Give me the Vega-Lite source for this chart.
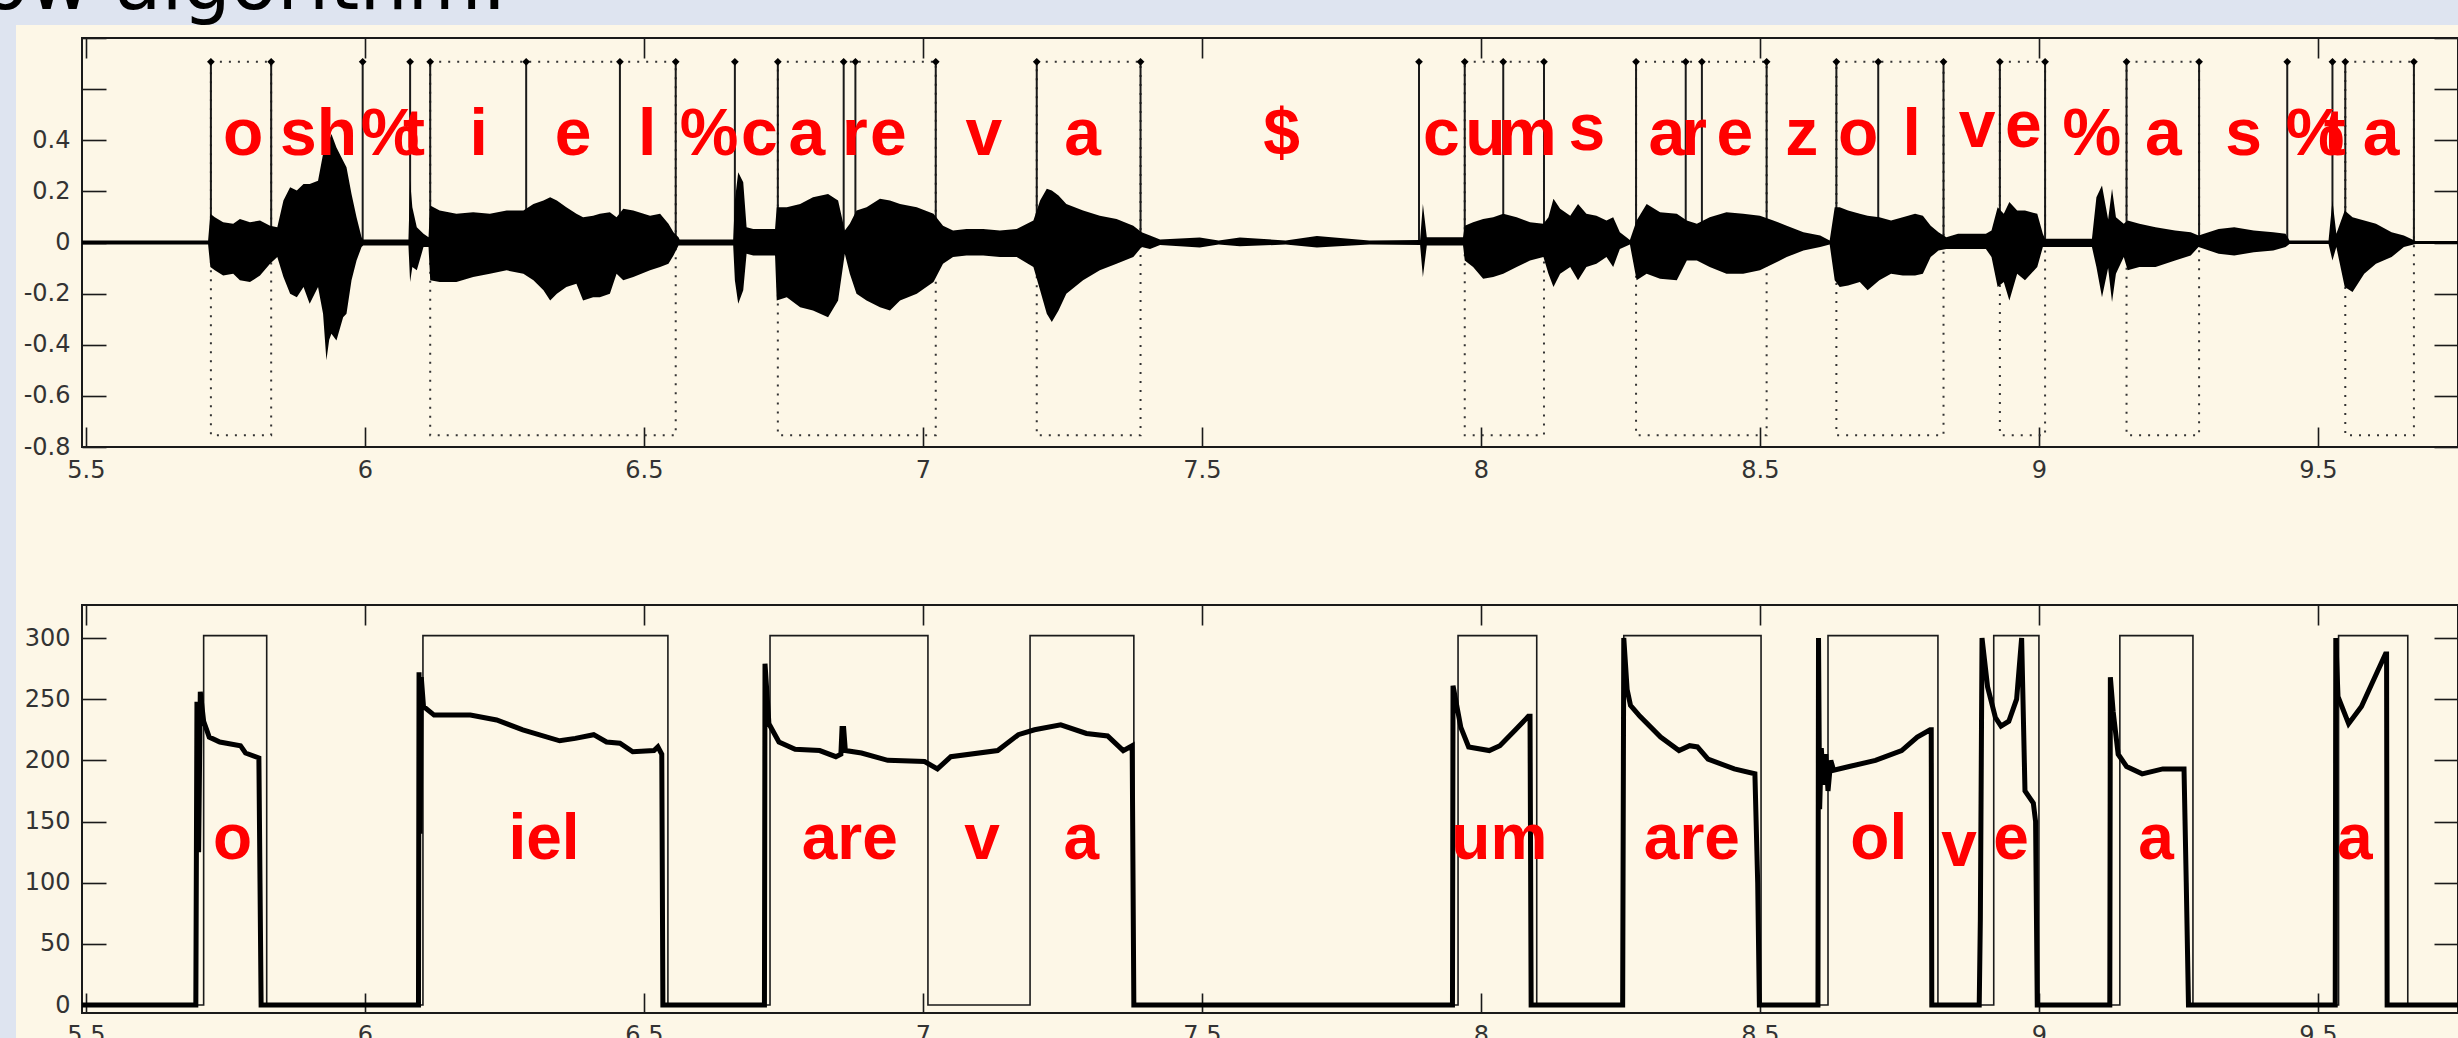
{
  "$schema": "https://vega.github.io/schema/vega-lite/v6.json",
  "background": "#fdf7e7",
  "padding": {"left": 0, "top": 0, "right": 0, "bottom": -8},
  "bounds": "flush",
  "spacing": 0,
  "config": {
    "view": {"stroke": null},
    "axis": {"domain": false, "grid": false, "tickColor": "#1a1a1a", "tickWidth": 1.6, "labelFont": "DejaVu Sans", "labelFontSize": 24, "labelColor": "#333333", "labelFlush": false, "labelOverlap": false, "labelBound": false}
  },
  "datasets": {
    "wave": [
      {"t":5.493,"hi":0.008,"lo":-0.008},{"t":5.719,"hi":0.008,"lo":-0.008},{"t":5.723,"hi":0.112,"lo":-0.096},{"t":5.731,"hi":0.099,"lo":-0.109},{"t":5.746,"hi":0.079,"lo":-0.129},{"t":5.764,"hi":0.073,"lo":-0.122},{"t":5.776,"hi":0.092,"lo":-0.148},{"t":5.794,"hi":0.079,"lo":-0.155},{"t":5.812,"hi":0.086,"lo":-0.129},{"t":5.83,"hi":0.066,"lo":-0.083},{"t":5.843,"hi":0.06,"lo":-0.057},{"t":5.854,"hi":0.164,"lo":-0.135},{"t":5.866,"hi":0.216,"lo":-0.2},{"t":5.878,"hi":0.203,"lo":-0.214},{"t":5.89,"hi":0.229,"lo":-0.174},{"t":5.901,"hi":0.229,"lo":-0.24},{"t":5.916,"hi":0.242,"lo":-0.174},{"t":5.925,"hi":0.346,"lo":-0.279},{"t":5.931,"hi":0.359,"lo":-0.461},{"t":5.936,"hi":0.4,"lo":-0.38},{"t":5.94,"hi":0.424,"lo":-0.357},{"t":5.949,"hi":0.372,"lo":-0.383},{"t":5.961,"hi":0.32,"lo":-0.292},{"t":5.967,"hi":0.294,"lo":-0.279},{"t":5.976,"hi":0.19,"lo":-0.148},{"t":5.985,"hi":0.099,"lo":-0.07},{"t":5.994,"hi":0.021,"lo":-0.018},{"t":5.997,"hi":0.012,"lo":-0.012},
      {"t":6.078,"hi":0.012,"lo":-0.012},{"t":6.081,"hi":0.242,"lo":-0.155},{"t":6.085,"hi":0.138,"lo":-0.096},{"t":6.093,"hi":0.06,"lo":-0.109},{"t":6.105,"hi":0.034,"lo":-0.018},{"t":6.114,"hi":0.021,"lo":-0.018},{"t":6.117,"hi":0.145,"lo":-0.148},{"t":6.134,"hi":0.125,"lo":-0.155},{"t":6.164,"hi":0.112,"lo":-0.155},{"t":6.194,"hi":0.118,"lo":-0.135},{"t":6.224,"hi":0.112,"lo":-0.122},{"t":6.254,"hi":0.125,"lo":-0.109},{"t":6.284,"hi":0.125,"lo":-0.122},{"t":6.302,"hi":0.151,"lo":-0.148},{"t":6.32,"hi":0.164,"lo":-0.187},{"t":6.332,"hi":0.177,"lo":-0.227},{"t":6.344,"hi":0.164,"lo":-0.2},{"t":6.361,"hi":0.138,"lo":-0.174},{"t":6.379,"hi":0.112,"lo":-0.161},{"t":6.391,"hi":0.099,"lo":-0.227},{"t":6.409,"hi":0.105,"lo":-0.214},{"t":6.421,"hi":0.112,"lo":-0.214},{"t":6.439,"hi":0.118,"lo":-0.2},{"t":6.451,"hi":0.099,"lo":-0.122},{"t":6.463,"hi":0.132,"lo":-0.148},{"t":6.481,"hi":0.125,"lo":-0.135},{"t":6.511,"hi":0.105,"lo":-0.109},{"t":6.529,"hi":0.112,"lo":-0.096},{"t":6.544,"hi":0.073,"lo":-0.083},{"t":6.553,"hi":0.04,"lo":-0.051},{"t":6.562,"hi":0.021,"lo":-0.012},{"t":6.564,"hi":0.012,"lo":-0.012},
      {"t":6.66,"hi":0.012,"lo":-0.012},{"t":6.663,"hi":0.164,"lo":-0.148},{"t":6.669,"hi":0.275,"lo":-0.24},{"t":6.678,"hi":0.236,"lo":-0.187},{"t":6.684,"hi":0.06,"lo":-0.044},{"t":6.696,"hi":0.053,"lo":-0.051},{"t":6.735,"hi":0.053,"lo":-0.051},{"t":6.738,"hi":0.138,"lo":-0.227},{"t":6.756,"hi":0.138,"lo":-0.214},{"t":6.78,"hi":0.151,"lo":-0.253},{"t":6.803,"hi":0.177,"lo":-0.266},{"t":6.83,"hi":0.19,"lo":-0.292},{"t":6.848,"hi":0.164,"lo":-0.227},{"t":6.86,"hi":0.047,"lo":-0.044},{"t":6.869,"hi":0.073,"lo":-0.122},{"t":6.881,"hi":0.125,"lo":-0.2},{"t":6.899,"hi":0.138,"lo":-0.227},{"t":6.923,"hi":0.171,"lo":-0.253},{"t":6.941,"hi":0.164,"lo":-0.266},{"t":6.959,"hi":0.151,"lo":-0.227},{"t":6.989,"hi":0.138,"lo":-0.2},{"t":7.019,"hi":0.112,"lo":-0.155},{"t":7.036,"hi":0.066,"lo":-0.083},{"t":7.054,"hi":0.047,"lo":-0.057},{"t":7.078,"hi":0.053,"lo":-0.051},{"t":7.108,"hi":0.053,"lo":-0.051},{"t":7.138,"hi":0.047,"lo":-0.057},{"t":7.168,"hi":0.053,"lo":-0.057},{"t":7.198,"hi":0.086,"lo":-0.096},{"t":7.21,"hi":0.164,"lo":-0.187},{"t":7.222,"hi":0.21,"lo":-0.279},{"t":7.231,"hi":0.203,"lo":-0.311},{"t":7.243,"hi":0.184,"lo":-0.266},{"t":7.257,"hi":0.151,"lo":-0.2},{"t":7.287,"hi":0.125,"lo":-0.148},{"t":7.317,"hi":0.105,"lo":-0.109},{"t":7.347,"hi":0.092,"lo":-0.083},{"t":7.377,"hi":0.066,"lo":-0.057},{"t":7.392,"hi":0.04,"lo":-0.018},{"t":7.407,"hi":0.027,"lo":-0.025},{"t":7.425,"hi":0.012,"lo":-0.01},{"t":7.496,"hi":0.02,"lo":-0.02},{"t":7.53,"hi":0.008,"lo":-0.008},{"t":7.568,"hi":0.02,"lo":-0.015},{"t":7.65,"hi":0.008,"lo":-0.008},{"t":7.706,"hi":0.025,"lo":-0.02},{"t":7.8,"hi":0.008,"lo":-0.008},{"t":7.891,"hi":0.01,"lo":-0.01},{"t":7.896,"hi":0.151,"lo":-0.135},{"t":7.903,"hi":0.021,"lo":-0.012},{"t":7.968,"hi":0.021,"lo":-0.012},
      {"t":7.971,"hi":0.066,"lo":-0.07},{"t":7.986,"hi":0.079,"lo":-0.096},{"t":8.004,"hi":0.092,"lo":-0.142},{"t":8.022,"hi":0.099,"lo":-0.135},{"t":8.04,"hi":0.112,"lo":-0.122},{"t":8.064,"hi":0.099,"lo":-0.096},{"t":8.088,"hi":0.079,"lo":-0.07},{"t":8.112,"hi":0.073,"lo":-0.057},{"t":8.121,"hi":0.099,"lo":-0.122},{"t":8.13,"hi":0.171,"lo":-0.174},{"t":8.142,"hi":0.132,"lo":-0.122},{"t":8.16,"hi":0.105,"lo":-0.096},{"t":8.174,"hi":0.151,"lo":-0.148},{"t":8.189,"hi":0.112,"lo":-0.096},{"t":8.207,"hi":0.105,"lo":-0.083},{"t":8.225,"hi":0.086,"lo":-0.057},{"t":8.237,"hi":0.099,"lo":-0.096},{"t":8.249,"hi":0.04,"lo":-0.025},{"t":8.267,"hi":0.01,"lo":-0.008},{"t":8.279,"hi":0.086,"lo":-0.148},{"t":8.297,"hi":0.151,"lo":-0.122},{"t":8.321,"hi":0.118,"lo":-0.142},{"t":8.351,"hi":0.112,"lo":-0.148},{"t":8.369,"hi":0.086,"lo":-0.07},{"t":8.387,"hi":0.073,"lo":-0.07},{"t":8.41,"hi":0.099,"lo":-0.096},{"t":8.44,"hi":0.118,"lo":-0.122},{"t":8.47,"hi":0.112,"lo":-0.122},{"t":8.5,"hi":0.105,"lo":-0.109},{"t":8.524,"hi":0.086,"lo":-0.083},{"t":8.548,"hi":0.066,"lo":-0.057},{"t":8.578,"hi":0.04,"lo":-0.031},{"t":8.608,"hi":0.027,"lo":-0.018},{"t":8.625,"hi":0.008,"lo":-0.008},
      {"t":8.634,"hi":0.138,"lo":-0.148},{"t":8.643,"hi":0.138,"lo":-0.174},{"t":8.658,"hi":0.125,"lo":-0.168},{"t":8.679,"hi":0.112,"lo":-0.155},{"t":8.693,"hi":0.105,"lo":-0.187},{"t":8.714,"hi":0.099,"lo":-0.148},{"t":8.735,"hi":0.086,"lo":-0.122},{"t":8.756,"hi":0.099,"lo":-0.129},{"t":8.778,"hi":0.112,"lo":-0.129},{"t":8.792,"hi":0.105,"lo":-0.122},{"t":8.806,"hi":0.066,"lo":-0.057},{"t":8.82,"hi":0.04,"lo":-0.031},{"t":8.834,"hi":0.021,"lo":-0.025},{"t":8.855,"hi":0.034,"lo":-0.025},{"t":8.905,"hi":0.034,"lo":-0.025},{"t":8.915,"hi":0.047,"lo":-0.057},{"t":8.926,"hi":0.138,"lo":-0.174},{"t":8.937,"hi":0.112,"lo":-0.155},{"t":8.947,"hi":0.158,"lo":-0.227},{"t":8.961,"hi":0.125,"lo":-0.122},{"t":8.975,"hi":0.125,"lo":-0.148},{"t":8.997,"hi":0.112,"lo":-0.096},{"t":9.007,"hi":0.034,"lo":-0.018},{"t":9.011,"hi":0.015,"lo":-0.018},{"t":9.095,"hi":0.015,"lo":-0.018},{"t":9.103,"hi":0.177,"lo":-0.096},{"t":9.113,"hi":0.223,"lo":-0.214},{"t":9.124,"hi":0.09,"lo":-0.1},{"t":9.131,"hi":0.21,"lo":-0.233},{"t":9.138,"hi":0.099,"lo":-0.122},{"t":9.152,"hi":0.073,"lo":-0.057},{"t":9.159,"hi":0.086,"lo":-0.109},{"t":9.18,"hi":0.073,"lo":-0.096},{"t":9.209,"hi":0.06,"lo":-0.096},{"t":9.244,"hi":0.047,"lo":-0.07},{"t":9.272,"hi":0.04,"lo":-0.051},{"t":9.286,"hi":0.027,"lo":-0.018},{"t":9.322,"hi":0.053,"lo":-0.044},{"t":9.35,"hi":0.06,"lo":-0.051},{"t":9.385,"hi":0.047,"lo":-0.038},{"t":9.42,"hi":0.04,"lo":-0.031},{"t":9.442,"hi":0.034,"lo":-0.018},{"t":9.449,"hi":0.008,"lo":-0.006},{"t":9.519,"hi":0.008,"lo":-0.006},{"t":9.526,"hi":0.164,"lo":-0.07},{"t":9.533,"hi":0.034,"lo":-0.018},{"t":9.548,"hi":0.125,"lo":-0.174},{"t":9.562,"hi":0.099,"lo":-0.194},{"t":9.583,"hi":0.086,"lo":-0.122},{"t":9.604,"hi":0.073,"lo":-0.083},{"t":9.632,"hi":0.04,"lo":-0.057},{"t":9.654,"hi":0.027,"lo":-0.018},{"t":9.675,"hi":0.006,"lo":-0.006},{"t":9.751,"hi":0.006,"lo":-0.006}
    ],
    "stems": [
      {"t":5.724},{"t":5.832},{"t":5.996},{"t":6.081},{"t":6.117},{"t":6.289},{"t":6.457},{"t":6.557},{"t":6.663},{"t":6.74},{"t":6.858},{"t":6.879},{"t":7.023},{"t":7.204},{"t":7.39},{"t":7.889},{"t":7.971},{"t":8.04},{"t":8.113},{"t":8.278},{"t":8.367},{"t":8.396},{"t":8.512},{"t":8.637},{"t":8.712},{"t":8.829},{"t":8.93},{"t":9.011},{"t":9.157},{"t":9.287},{"t":9.445},{"t":9.526},{"t":9.549},{"t":9.672}
    ],
    "segTop": [
      {"start":5.724,"end":5.832},{"start":6.117,"end":6.557},{"start":6.74,"end":7.023},{"start":7.204,"end":7.39},{"start":7.971,"end":8.113},{"start":8.278,"end":8.512},{"start":8.637,"end":8.829},{"start":8.93,"end":9.011},{"start":9.157,"end":9.287},{"start":9.549,"end":9.672}
    ],
    "labTop": [
      {"t":5.782,"amp":0.344,"label":"o"},{"t":5.917,"amp":0.344,"label":"sh"},{"t":6.045,"amp":0.344,"label":"%"},{"t":6.088,"amp":0.344,"label":"t"},{"t":6.204,"amp":0.344,"label":"i"},{"t":6.373,"amp":0.344,"label":"e"},{"t":6.506,"amp":0.344,"label":"l"},{"t":6.617,"amp":0.344,"label":"%"},{"t":6.707,"amp":0.344,"label":"c"},{"t":6.792,"amp":0.344,"label":"a"},{"t":6.878,"amp":0.344,"label":"r"},{"t":6.938,"amp":0.344,"label":"e"},{"t":7.109,"amp":0.344,"label":"v"},{"t":7.286,"amp":0.344,"label":"a"},{"t":7.643,"amp":0.344,"label":"$"},{"t":7.929,"amp":0.344,"label":"c"},{"t":8.008,"amp":0.344,"label":"u"},{"t":8.083,"amp":0.344,"label":"m"},{"t":8.19,"amp":0.362,"label":"s"},{"t":8.333,"amp":0.344,"label":"a"},{"t":8.382,"amp":0.344,"label":"r"},{"t":8.455,"amp":0.344,"label":"e"},{"t":8.575,"amp":0.344,"label":"z"},{"t":8.676,"amp":0.344,"label":"o"},{"t":8.772,"amp":0.344,"label":"l"},{"t":8.889,"amp":0.375,"label":"v"},{"t":8.972,"amp":0.375,"label":"e"},{"t":9.095,"amp":0.344,"label":"%"},{"t":9.223,"amp":0.344,"label":"a"},{"t":9.367,"amp":0.344,"label":"s"},{"t":9.495,"amp":0.344,"label":"%"},{"t":9.53,"amp":0.344,"label":"t"},{"t":9.613,"amp":0.344,"label":"a"}
    ],
    "square": [
      {"t":5.493,"v":0},{"t":5.711,"v":302},{"t":5.824,"v":0},{"t":6.104,"v":302},{"t":6.543,"v":0},{"t":6.726,"v":302},{"t":7.009,"v":0},{"t":7.192,"v":302},{"t":7.378,"v":0},{"t":7.959,"v":302},{"t":8.1,"v":0},{"t":8.256,"v":302},{"t":8.502,"v":0},{"t":8.622,"v":302},{"t":8.819,"v":0},{"t":8.919,"v":302},{"t":9.0,"v":0},{"t":9.145,"v":302},{"t":9.276,"v":0},{"t":9.537,"v":302},{"t":9.661,"v":0},{"t":9.751,"v":0}
    ],
    "pitch": [
      {"t":5.493,"f0":0},{"t":5.697,"f0":0},{"t":5.699,"f0":248},{"t":5.702,"f0":125},{"t":5.705,"f0":256},{"t":5.711,"f0":232},{"t":5.721,"f0":219},{"t":5.74,"f0":215},{"t":5.777,"f0":212},{"t":5.786,"f0":206},{"t":5.81,"f0":202},{"t":5.812,"f0":100},{"t":5.814,"f0":0},
      {"t":6.096,"f0":0},{"t":6.097,"f0":272},{"t":6.099,"f0":140},{"t":6.101,"f0":268},{"t":6.105,"f0":244},{"t":6.124,"f0":237},{"t":6.189,"f0":237},{"t":6.236,"f0":233},{"t":6.283,"f0":225},{"t":6.349,"f0":216},{"t":6.377,"f0":218},{"t":6.41,"f0":221},{"t":6.433,"f0":215},{"t":6.457,"f0":214},{"t":6.48,"f0":207},{"t":6.518,"f0":208},{"t":6.525,"f0":211},{"t":6.532,"f0":205},{"t":6.534,"f0":0},
      {"t":6.716,"f0":0},{"t":6.717,"f0":279},{"t":6.724,"f0":230},{"t":6.742,"f0":215},{"t":6.771,"f0":209},{"t":6.815,"f0":208},{"t":6.844,"f0":203},{"t":6.853,"f0":205},{"t":6.855,"f0":226},{"t":6.858,"f0":226},{"t":6.861,"f0":208},{"t":6.89,"f0":206},{"t":6.937,"f0":200},{"t":7.003,"f0":199},{"t":7.026,"f0":193},{"t":7.05,"f0":203},{"t":7.134,"f0":208},{"t":7.171,"f0":221},{"t":7.2,"f0":225},{"t":7.247,"f0":229},{"t":7.293,"f0":222},{"t":7.331,"f0":220},{"t":7.359,"f0":208},{"t":7.375,"f0":212},{"t":7.378,"f0":0},
      {"t":7.949,"f0":0},{"t":7.95,"f0":261},{"t":7.964,"f0":227},{"t":7.978,"f0":211},{"t":8.015,"f0":208},{"t":8.034,"f0":212},{"t":8.062,"f0":225},{"t":8.085,"f0":236},{"t":8.088,"f0":236},{"t":8.09,"f0":0},
      {"t":8.254,"f0":0},{"t":8.256,"f0":300},{"t":8.262,"f0":258},{"t":8.268,"f0":245},{"t":8.285,"f0":236},{"t":8.322,"f0":219},{"t":8.355,"f0":208},{"t":8.374,"f0":212},{"t":8.388,"f0":211},{"t":8.407,"f0":201},{"t":8.454,"f0":193},{"t":8.491,"f0":189},{"t":8.496,"f0":100},{"t":8.499,"f0":0},
      {"t":8.604,"f0":0},{"t":8.605,"f0":300},{"t":8.607,"f0":160},{"t":8.61,"f0":210},{"t":8.614,"f0":180},{"t":8.618,"f0":205},{"t":8.622,"f0":175},{"t":8.627,"f0":200},{"t":8.632,"f0":192},{"t":8.66,"f0":195},{"t":8.707,"f0":200},{"t":8.754,"f0":208},{"t":8.782,"f0":219},{"t":8.805,"f0":225},{"t":8.807,"f0":225},{"t":8.808,"f0":0},
      {"t":8.893,"f0":0},{"t":8.895,"f0":70},{"t":8.898,"f0":300},{"t":8.908,"f0":260},{"t":8.922,"f0":235},{"t":8.932,"f0":228},{"t":8.946,"f0":232},{"t":8.96,"f0":250},{"t":8.969,"f0":300},{"t":8.975,"f0":175},{"t":8.99,"f0":165},{"t":8.994,"f0":150},{"t":8.997,"f0":0},
      {"t":9.127,"f0":0},{"t":9.128,"f0":268},{"t":9.133,"f0":240},{"t":9.142,"f0":205},{"t":9.157,"f0":195},{"t":9.185,"f0":189},{"t":9.222,"f0":193},{"t":9.26,"f0":193},{"t":9.264,"f0":100},{"t":9.268,"f0":0},
      {"t":9.531,"f0":0},{"t":9.532,"f0":300},{"t":9.536,"f0":252},{"t":9.555,"f0":230},{"t":9.578,"f0":244},{"t":9.597,"f0":263},{"t":9.621,"f0":287},{"t":9.623,"f0":287},{"t":9.624,"f0":0},{"t":9.751,"f0":0}
    ],
    "labBot": [
      {"t":5.763,"f0":119,"label":"o"},{"t":6.321,"f0":119,"label":"iel"},{"t":6.869,"f0":119,"label":"are"},{"t":7.106,"f0":119,"label":"v"},{"t":7.284,"f0":119,"label":"a"},{"t":8.033,"f0":119,"label":"um"},{"t":8.378,"f0":119,"label":"are"},{"t":8.713,"f0":119,"label":"ol"},{"t":8.857,"f0":114,"label":"v"},{"t":8.95,"f0":119,"label":"e"},{"t":9.21,"f0":119,"label":"a"},{"t":9.566,"f0":119,"label":"a"}
    ]
  },
  "vconcat": [
    {
      "width": 2458,
      "height": 25,
      "view": {"fill": "#dee4f0", "stroke": null},
      "data": {"values": [{"label": "ow algorithm:", "px": 0, "py": 0}]},
      "mark": {"type": "text", "clip": true, "align": "left", "baseline": "alphabetic", "font": "DejaVu Sans", "fontSize": 76, "color": "#000000", "dx": -18, "dy": -16},
      "encoding": {
        "x": {"field": "px", "type": "quantitative", "scale": {"domain": [0, 1]}, "axis": null},
        "y": {"field": "py", "type": "quantitative", "scale": {"domain": [0, 1]}, "axis": null},
        "text": {"field": "label"}
      }
    },
    {
      "bounds": "flush",
      "spacing": 66,
      "hconcat": [
        {
          "width": 16,
          "height": 1013,
          "view": {"fill": "#dee4f0", "stroke": null},
          "data": {"values": [{"s": ""}]},
          "mark": {"type": "text"},
          "encoding": {"text": {"field": "s"}}
        },
        {
          "bounds": "flush",
          "spacing": 12,
          "vconcat": [
            {
              "width": 10,
              "height": 1,
              "view": {"fill": null, "stroke": null},
              "data": {"values": [{"s": ""}]},
              "mark": {"type": "text"},
              "encoding": {"text": {"field": "s"}}
            },
            {
              "bounds": "flush",
              "spacing": 158,
              "vconcat": [
                {
                  "width": 2376,
                  "height": 409,
                  "view": {"stroke": "#1a1a1a", "strokeWidth": 2, "fill": null},
                  "resolve": {"axis": {"x": "independent", "y": "independent"}},
                  "layer": [
                    {
                      "data": {"name": "segTop"},
                      "mark": {"type": "rect", "filled": false, "stroke": "#333333", "strokeWidth": 2, "strokeDash": [2, 7]},
                      "encoding": {
                        "x": {"field": "start", "type": "quantitative", "scale": {"domain": [5.493, 9.751], "nice": false, "zero": false}, "axis": null},
                        "x2": {"field": "end"},
                        "y": {"datum": -0.754, "type": "quantitative", "scale": {"domain": [-0.8, 0.8], "nice": false, "zero": false}, "axis": null},
                        "y2": {"datum": 0.707}
                      }
                    },
                    {
                      "data": {"name": "stems"},
                      "mark": {"type": "rule", "color": "#1a1a1a", "strokeWidth": 2},
                      "encoding": {
                        "x": {"field": "t", "type": "quantitative", "scale": {"domain": [5.493, 9.751], "nice": false, "zero": false}, "axis": {"orient": "top", "values": [5.5, 6, 6.5, 7, 7.5, 8, 8.5, 9, 9.5], "tickSize": -20, "labels": false, "title": null}},
                        "y": {"datum": 0, "type": "quantitative", "scale": {"domain": [-0.8, 0.8], "nice": false, "zero": false}, "axis": {"orient": "right", "values": [-0.8, -0.6, -0.4, -0.2, 0, 0.2, 0.4, 0.6, 0.8], "tickSize": -24, "labels": false, "title": null}},
                        "y2": {"datum": 0.707}
                      }
                    },
                    {
                      "data": {"name": "wave"},
                      "mark": {"type": "area", "color": "#000000", "interpolate": "linear"},
                      "encoding": {
                        "x": {"field": "t", "type": "quantitative", "scale": {"domain": [5.493, 9.751], "nice": false, "zero": false}, "axis": {"orient": "bottom", "values": [5.5, 6, 6.5, 7, 7.5, 8, 8.5, 9, 9.5], "tickSize": -20, "labelPadding": 31, "labelExpr": "toString(datum.value)", "title": null}},
                        "y": {"field": "hi", "type": "quantitative", "scale": {"domain": [-0.8, 0.8], "nice": false, "zero": false}, "axis": {"orient": "left", "values": [-0.8, -0.6, -0.4, -0.2, 0, 0.2, 0.4, 0.6, 0.8], "tickSize": -24, "labelPadding": 36, "labelExpr": "datum.value > 0.5 ? '' : toString(datum.value)", "title": null}},
                        "y2": {"field": "lo"}
                      }
                    },
                    {
                      "data": {"name": "stems"},
                      "mark": {"type": "point", "shape": "diamond", "filled": true, "color": "#000000", "size": 60, "opacity": 1},
                      "encoding": {
                        "x": {"field": "t", "type": "quantitative", "scale": {"domain": [5.493, 9.751], "nice": false, "zero": false}, "axis": null},
                        "y": {"datum": 0.707, "type": "quantitative", "scale": {"domain": [-0.8, 0.8], "nice": false, "zero": false}, "axis": null}
                      }
                    },
                    {
                      "data": {"name": "labTop"},
                      "mark": {"type": "text", "color": "#ff0000", "font": "Liberation Sans", "fontWeight": "bold", "fontSize": 66, "align": "center", "baseline": "alphabetic"},
                      "encoding": {
                        "x": {"field": "t", "type": "quantitative", "scale": {"domain": [5.493, 9.751], "nice": false, "zero": false}, "axis": null},
                        "y": {"field": "amp", "type": "quantitative", "scale": {"domain": [-0.8, 0.8], "nice": false, "zero": false}, "axis": null},
                        "text": {"field": "label"}
                      }
                    }
                  ]
                },
                {
                  "width": 2376,
                  "height": 408,
                  "view": {"stroke": "#1a1a1a", "strokeWidth": 2, "fill": null},
                  "resolve": {"axis": {"x": "independent", "y": "independent"}},
                  "layer": [
                    {
                      "data": {"name": "square"},
                      "mark": {"type": "line", "color": "#1a1a1a", "strokeWidth": 1.6, "interpolate": "step-after"},
                      "encoding": {
                        "x": {"field": "t", "type": "quantitative", "scale": {"domain": [5.493, 9.751], "nice": false, "zero": false}, "axis": {"orient": "bottom", "values": [5.5, 6, 6.5, 7, 7.5, 8, 8.5, 9, 9.5], "tickSize": -20, "labelPadding": 30, "labelExpr": "toString(datum.value)", "title": null}},
                        "y": {"field": "v", "type": "quantitative", "scale": {"domain": [-6.5, 327], "nice": false, "zero": false}, "axis": {"orient": "left", "values": [0, 50, 100, 150, 200, 250, 300], "tickSize": -24, "labelPadding": 36, "labelExpr": "toString(datum.value)", "title": null}}
                      }
                    },
                    {
                      "data": {"name": "pitch"},
                      "mark": {"type": "line", "color": "#000000", "strokeWidth": 5, "strokeJoin": "miter"},
                      "encoding": {
                        "x": {"field": "t", "type": "quantitative", "scale": {"domain": [5.493, 9.751], "nice": false, "zero": false}, "axis": {"orient": "top", "values": [5.5, 6, 6.5, 7, 7.5, 8, 8.5, 9, 9.5], "tickSize": -20, "labels": false, "title": null}},
                        "y": {"field": "f0", "type": "quantitative", "scale": {"domain": [-6.5, 327], "nice": false, "zero": false}, "axis": {"orient": "right", "values": [0, 50, 100, 150, 200, 250, 300], "tickSize": -24, "labels": false, "title": null}}
                      }
                    },
                    {
                      "data": {"name": "labBot"},
                      "mark": {"type": "text", "color": "#ff0000", "font": "Liberation Sans", "fontWeight": "bold", "fontSize": 64, "align": "center", "baseline": "alphabetic"},
                      "encoding": {
                        "x": {"field": "t", "type": "quantitative", "scale": {"domain": [5.493, 9.751], "nice": false, "zero": false}, "axis": null},
                        "y": {"field": "f0", "type": "quantitative", "scale": {"domain": [-6.5, 327], "nice": false, "zero": false}, "axis": null},
                        "text": {"field": "label"}
                      }
                    }
                  ]
                }
              ]
            }
          ]
        }
      ]
    }
  ]
}
